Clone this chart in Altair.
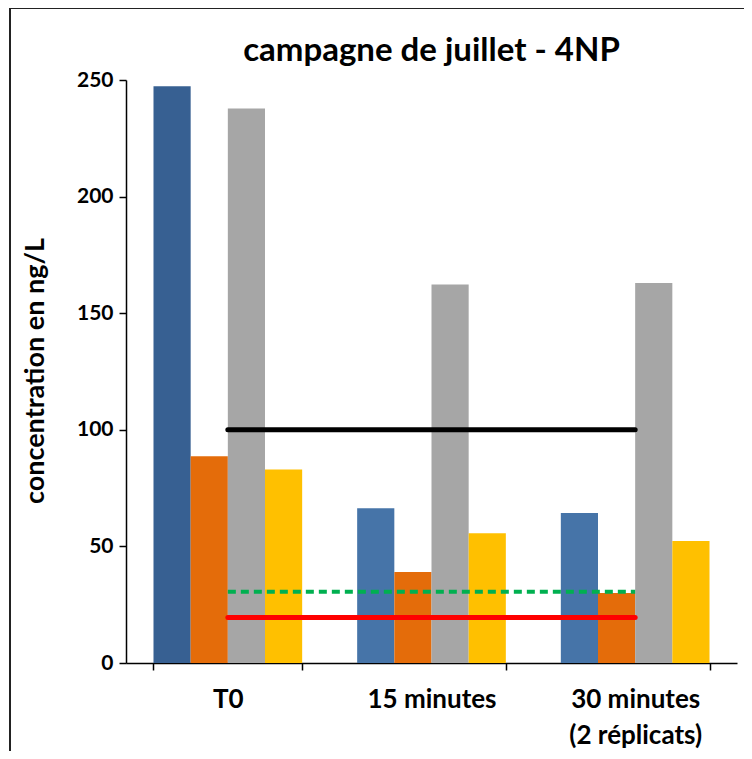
import altair as alt
import pandas as pd

# ---- data ----
categories = ["T0", "15 minutes", "30 minutes\n(2 réplicats)"]
series = ["série 1", "série 2", "série 3", "série 4"]
serie_1 = [247.3, 66.4, 64.3]
serie_2 = [88.7, 39.0, 30.0]
serie_3 = [237.8, 162.3, 163.0]
serie_4 = [83.0, 55.6, 52.3]
y_ticks = [0, 50, 100, 150, 200, 250]

seuil_noir = 100.0
seuil_vert = 30.5
seuil_rouge = 19.5

Y_TITLE = "concentration  en ng/L"

# ---- tables ----
rows = []
for vals, s in zip([serie_1, serie_2, serie_3, serie_4], series):
    for c, v in zip(categories, vals):
        key = s + " (T0)" if (s == "série 1" and c == "T0") else s
        rows.append({"categorie": c, "serie": s, "couleur": key, "valeur": v})
bars_df = pd.DataFrame(rows)

color_domain = ["série 1 (T0)", "série 1", "série 2", "série 3", "série 4"]
color_range = ["#376092", "#4674A8", "#E46C0A", "#A6A6A6", "#FFC000"]

FONT = "Lato"
W, H = 611, 583

xscale = alt.Scale(domain=categories, paddingInner=0.27, paddingOuter=0.135)
yscale = alt.Scale(domain=[0, 250], nice=False)

bars = alt.Chart(bars_df).mark_bar().encode(
    x=alt.X("categorie:N", scale=xscale, sort=categories, title=None,
            axis=alt.Axis(labelAngle=0, tickBand="extent", labelExpr="split(datum.label, '\\n')",
                          labelFont=FONT, labelFontSize=26, labelFontWeight="bold", labelColor="#000",
                          labelPadding=16, labelLineHeight=36, labelBaseline="top",
                          domainColor="#000", domainWidth=1.5, tickColor="#000", tickWidth=1.5,
                          tickSize=7)),
    xOffset=alt.XOffset("serie:N", sort=series, scale=alt.Scale(paddingInner=0, paddingOuter=0)),
    y=alt.Y("valeur:Q", scale=yscale, title=Y_TITLE,
            axis=alt.Axis(values=y_ticks, grid=False, labelFont=FONT, labelFontSize=21,
                          labelFontWeight="bold", labelColor="#000", labelPadding=6,
                          domainColor="#000", domainWidth=1.5, tickColor="#000", tickWidth=1.5,
                          tickSize=7, titleFont=FONT, titleFontSize=27, titleFontWeight="bold",
                          titleColor="#000", titleX=-91, titleY=H / 2 - 1, titleBaseline="middle",
                          titleAngle=270, titleAlign="center")),
    color=alt.Color("couleur:N", scale=alt.Scale(domain=color_domain, range=color_range), legend=None),
)

rules_df = pd.DataFrame({
    "debut": [categories[0]] * 3,
    "fin": [categories[-1]] * 3,
    "valeur": [seuil_noir, seuil_vert, seuil_rouge],
    "nom": ["noir", "vert", "rouge"],
})


def rule(name, color, width, dash=None, cap="round"):
    kw = dict(color=color, strokeWidth=width, strokeCap=cap)
    if dash:
        kw["strokeDash"] = dash
    return alt.Chart(rules_df).transform_filter(alt.datum.nom == name).mark_rule(**kw).encode(
        x=alt.X("debut:N", scale=xscale, sort=categories, bandPosition=0.5, title=None),
        x2=alt.X2("fin", bandPosition=0.5),
        y=alt.Y("valeur:Q", scale=yscale, title=Y_TITLE),
    )


frame_df = pd.DataFrame({"a": [0]})
frame = alt.Chart(frame_df).mark_rect(fill=None, stroke="#222", strokeWidth=2).encode(
    x=alt.value(-116), x2=alt.value(700), y=alt.value(-72), y2=alt.value(900)
)

chart = alt.layer(
    bars,
    rule("noir", "#000000", 5),
    rule("vert", "#00B050", 4, dash=[8, 5], cap="butt"),
    rule("rouge", "#FF0000", 5),
    frame,
).properties(
    width=W, height=H,
    title=alt.TitleParams("campagne de juillet - 4NP", font=FONT, fontSize=33, fontWeight="bold",
                          color="#000", anchor="middle", offset=14, dy=75),
    autosize=alt.AutoSizeParams(type="none"),
    padding={"left": 118, "top": 72, "right": 7, "bottom": 88},
).configure_view(stroke=None)

chart.save("out.html", embed_options={"renderer": "svg", "actions": False})
